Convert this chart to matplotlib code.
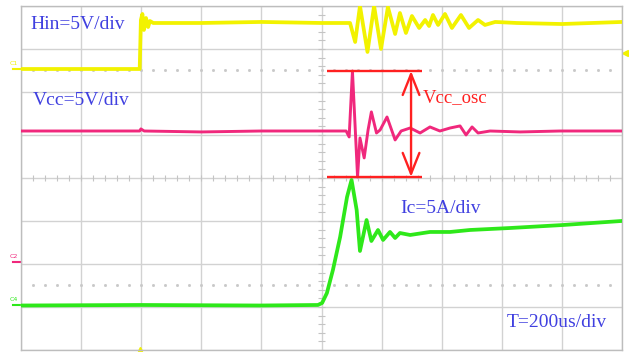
import numpy as np
import matplotlib
matplotlib.use("Agg")
import matplotlib.pyplot as plt

# ---------------- data (time in us, 200 us/div) ----------------
hin_t = [0, 395, 399, 404, 409, 416, 423, 429, 440, 600, 800, 1000, 1095,
         1112, 1128, 1153, 1175, 1198, 1221, 1245, 1261, 1281, 1301, 1325,
         1345, 1358, 1371, 1388, 1411, 1434, 1464, 1491, 1521, 1544, 1578,
         1650, 1800, 2000]
hin_v = [0, 0, 5.70, 6.40, 4.54, 5.93, 4.88, 5.58, 5.35, 5.35, 5.47, 5.35, 5.35,
         3.14, 7.33, 1.98, 7.33, 2.33, 7.21, 4.07, 6.51, 4.19, 6.16, 4.77,
         5.70, 5.00, 6.28, 5.12, 6.40, 4.77, 6.28, 4.77, 5.70, 5.12, 5.47,
         5.35, 5.23, 5.47]

vcc_t = [0, 395, 399, 410, 600, 800, 1000, 1082, 1092, 1103, 1120, 1128, 1142,
         1155, 1166, 1183, 1195, 1218, 1245, 1265, 1295, 1328, 1361, 1394,
         1428, 1461, 1481, 1501, 1521, 1561, 1661, 1794, 2000]
vcc_v = [15.23, 15.23, 15.47, 15.23, 15.12, 15.23, 15.23, 15.23, 14.54, 22.21,
         9.89, 14.42, 12.10, 15.35, 17.45, 15.00, 15.35, 16.86, 14.19, 15.23,
         15.58, 15.00, 15.70, 15.23, 15.58, 15.82, 14.77, 15.70, 15.00, 15.23,
         15.12, 15.23, 15.23]

ic_t = [0, 396, 795, 988, 1002, 1018, 1038, 1062, 1085, 1100, 1117, 1128, 1150,
        1166, 1188, 1205, 1228, 1245, 1261, 1295, 1361, 1428, 1494, 1627, 1804,
        2000]
ic_v = [0, 0.06, 0, 0.06, 0.29, 1.45, 4.13, 7.97, 12.62, 14.60, 11.11, 6.34,
        9.94, 7.50, 8.78, 7.62, 8.55, 7.85, 8.43, 8.20, 8.55, 8.55, 8.78, 9.01,
        9.36, 9.83]

labels = ["Hin=5V/div", "Vcc=5V/div", "Ic=5A/div", "T=200us/div"]
osc_label = "Vcc_osc"

# ---------------- channel settings ----------------
scale = 5.0                      # units per division
off_hin, off_vcc, off_ic = 2.535, -1.953, -2.965   # ground positions (div)

col_hin = "#f2f200"
col_vcc = "#f0287c"
col_ic = "#2ee81a"
col_txt = "#4040e0"
col_red = "#ff2020"

fig = plt.figure(figsize=(6.29, 3.52), dpi=100)
fig.patch.set_facecolor("white")
ax = fig.add_axes([21 / 629, 2 / 352, 601 / 629, 344 / 352])
ax.set_xlim(0, 2000)
ax.set_ylim(-4, 4)
ax.set_xticks(np.arange(0, 2001, 200))
ax.set_yticks(np.arange(-4, 5, 1))
ax.tick_params(length=0, labelbottom=False, labelleft=False)
ax.grid(True, color="#d2d2d2", lw=1.0)
for s in ax.spines.values():
    s.set_color("#bdbdbd")
    s.set_linewidth(1.0)

# center-line minor ticks
mx = np.arange(0, 2001, 40)
ax.vlines(mx, -0.07, 0.07, color="#c4c4c4", lw=0.8)
my = np.arange(-4, 4.01, 0.2)
ax.hlines(my, 990, 1010, color="#c4c4c4", lw=0.8)
# dotted reference rows
for yy in (2.51, -2.49):
    ax.plot(mx[1:-1], np.full(len(mx) - 2, yy), ls="none", marker="s",
            ms=1.0, color="#c8c8c8")

# traces
ax.plot(hin_t, off_hin + np.array(hin_v) / scale, color=col_hin, lw=2.7,
        zorder=3, solid_joinstyle="round")
ax.plot(vcc_t, off_vcc + np.array(vcc_v) / scale, color=col_vcc, lw=2.1,
        zorder=3, solid_joinstyle="round")
ax.plot(ic_t, off_ic + np.array(ic_v) / scale, color=col_ic, lw=2.7,
        zorder=3, solid_joinstyle="round")

# Vcc_osc annotation
vtop = off_vcc + max(vcc_v) / scale
vbot = off_vcc + min(vcc_v) / scale
ax.hlines([vtop, vbot], 1018, 1335, color=col_red, lw=1.7, zorder=4)
ax.annotate("", xy=(1298, vtop), xytext=(1298, vbot),
            arrowprops=dict(arrowstyle="<->,head_length=1.5,head_width=0.6",
                            color=col_red, lw=1.7, shrinkA=0, shrinkB=0),
            zorder=4)
ax.text(1338, 1.86, osc_label, color=col_red, fontsize=13.5,
        family="Liberation Serif", va="center", ha="left", zorder=5)

# channel labels
tfont = dict(family="Liberation Serif", fontsize=14, color=col_txt,
             va="center", ha="left", zorder=5)
ax.text(30, 3.58, labels[0], **tfont)
ax.text(40, 1.81, labels[1], **tfont)
ax.text(1261, -0.70, labels[2], **tfont)
ax.text(1617, -3.35, labels[3], **tfont)

# ground markers at left
for off, col, name in ((off_hin, col_hin, "C1"), (off_vcc, col_vcc, "C2"),
                       (off_ic, col_ic, "C4")):
    ax.annotate(name, xy=(0, off), xycoords="data", xytext=(-8, 4),
                textcoords="offset points", fontsize=4.5, color=col,
                ha="left", va="center", annotation_clip=False)
    ax.plot([-25, 0], [off, off], color=col, lw=1.5, clip_on=False)

# trigger markers
ax.plot([2010], [off_hin + 1.86 / scale], marker="<", ms=4, color=col_hin,
        clip_on=False)
ax.plot([396], [-3.97], marker="^", ms=3, color=col_hin, clip_on=False)

fig.savefig("out.png", dpi=100, facecolor="white")
